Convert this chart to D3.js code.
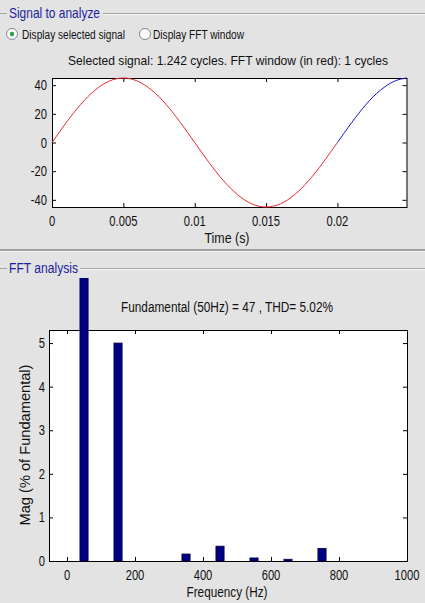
<!DOCTYPE html>
<html><head><meta charset="utf-8">
<script src="https://cdn.jsdelivr.net/npm/d3@7/dist/d3.min.js"></script>
<style>
html,body{margin:0;padding:0;background:#e2e2e2;}
text{font-family:"Liberation Sans",Arial,sans-serif;}
</style></head>
<body>
<svg id="c" width="425" height="603"></svg>
<script>
// ---- data ----
const timeSec = [0,0.001,0.002,0.003,0.004,0.005,0.006,0.007,0.008,0.009,0.010,0.011,0.012,0.013,0.014,0.015,0.016,0.017,0.018,0.019,0.020,0.021,0.022,0.023,0.024,0.02484];
const signalVal = [0,13.9,26.5,36.4,42.8,45,42.8,36.4,26.5,13.9,0,-13.9,-26.5,-36.4,-42.8,-45,-42.8,-36.4,-26.5,-13.9,0,13.9,26.5,36.4,42.8,45];
const fftWindowEnd = 0.02;
const timeTicks = [0,0.005,0.01,0.015,0.02];
const timeTickLabels = ["0","0.005","0.01","0.015","0.02"];
const sigTicks = [-40,-20,0,20,40];
const freqHz = [50,100,150,200,250,300,350,400,450,500,550,600,650,700,750,800,850,900,950,1000];
const magPct = [100,0,5.0,0,0,0,0.16,0,0.34,0,0.07,0,0.04,0,0.29,0,0,0,0,0];
const freqTicks = [0,200,400,600,800,1000];
const magTicks = [0,1,2,3,4,5];
const topTitle = "Selected signal: 1.242 cycles. FFT window (in red): 1 cycles";
const fftTitle = "Fundamental (50Hz) = 47 , THD= 5.02%";

const svg = d3.select("#c");
svg.append("rect").attr("width",425).attr("height",603).attr("fill","#e3e3e3");

function squeeze(sel, f){
  sel.each(function(){ const w=this.getComputedTextLength(); d3.select(this).attr("textLength",w*f).attr("lengthAdjust","spacingAndGlyphs"); });
}
function fitW(sel,w){ sel.attr("textLength",w).attr("lengthAdjust","spacingAndGlyphs"); }

// group boxes
function groupBox(y, x1, x2){
  svg.append("line").attr("x1",0).attr("x2",x1).attr("y1",y+0.5).attr("y2",y+0.5).attr("stroke","#a4a4a4");
  svg.append("line").attr("x1",x2).attr("x2",425).attr("y1",y+0.5).attr("y2",y+0.5).attr("stroke","#a4a4a4");
  svg.append("line").attr("x1",x2).attr("x2",425).attr("y1",y+1.5).attr("y2",y+1.5).attr("stroke","#f6f6f6");
}
groupBox(13,7,103);
svg.append("text").attr("x",9).attr("y",18).attr("font-size",15).attr("fill","#1e1e9e").text("Signal to analyze").call(fitW,91);
groupBox(268,7,80);
svg.append("text").attr("x",9).attr("y",273).attr("font-size",14).attr("fill","#1e1e9e").text("FFT analysis").call(fitW,69);
// separator
svg.append("rect").attr("x",0).attr("y",249).attr("width",425).attr("height",2).attr("fill","#a0a0a0");
svg.append("rect").attr("x",0).attr("y",251).attr("width",425).attr("height",1).attr("fill","#f4f4f4");

// radio buttons
[[12,34,true,"Display selected signal",22,103],[145,34,false,"Display FFT window",153,91]].forEach(r=>{
  svg.append("circle").attr("cx",r[0]).attr("cy",r[1]).attr("r",5.5).attr("fill","#fbfbfb").attr("stroke","#7a8a9a");
  if(r[2]) svg.append("circle").attr("cx",r[0]).attr("cy",r[1]).attr("r",2.2).attr("fill","#2aa040");
  svg.append("text").attr("x",r[4]).attr("y",38.5).attr("font-size",12).attr("fill","#111").text(r[3]).call(fitW,r[5]);
});

// ---- top plot ----
const x1 = d3.scaleLinear().domain([0,0.02484]).range([52,406.5]);
const y1 = d3.scaleLinear().domain([-45,45]).range([207,78]);
svg.append("rect").attr("x",52).attr("y",78).attr("width",354.5).attr("height",129).attr("fill","#fff");
svg.append("text").attr("x",228).attr("y",65).attr("text-anchor","middle").attr("font-size",13.5).attr("fill","#111").text(topTitle).call(fitW,320);

function axesFrame(x, y, xt, yt, xlabels, ylabels, xBase, yRight){
  const [L,R]=x.range(), [B,T]=y.range();
  const g=svg.append("g");
  const tl=4;
  xt.forEach((v,i)=>{
    g.append("line").attr("x1",x(v)+0.5).attr("x2",x(v)+0.5).attr("y1",B).attr("y2",B-tl).attr("stroke","#000");
    g.append("line").attr("x1",x(v)+0.5).attr("x2",x(v)+0.5).attr("y1",T).attr("y2",T+tl).attr("stroke","#000");
    g.append("text").attr("x",x(v)).attr("y",xBase).attr("text-anchor","middle").attr("font-size",14).attr("fill","#111").text(xlabels[i]).call(squeeze,0.8);
  });
  yt.forEach((v,i)=>{
    g.append("line").attr("x1",L).attr("x2",L+tl).attr("y1",y(v)+0.5).attr("y2",y(v)+0.5).attr("stroke","#000");
    g.append("line").attr("x1",R).attr("x2",R-tl).attr("y1",y(v)+0.5).attr("y2",y(v)+0.5).attr("stroke","#000");
    g.append("text").attr("x",yRight).attr("y",y(v)+5).attr("text-anchor","end").attr("font-size",14).attr("fill","#111").text(ylabels[i]).call(squeeze,0.8);
  });
  g.append("rect").attr("x",L+0.5).attr("y",T+0.5).attr("width",R-L).attr("height",B-T).attr("fill","none").attr("stroke","#000");
}
axesFrame(x1,y1,timeTicks,sigTicks,timeTickLabels,sigTicks.map(String),226,47);

const defs=svg.append("defs");
defs.append("clipPath").attr("id","cRed").append("rect").attr("x",0).attr("y",0).attr("width",x1(fftWindowEnd)).attr("height",603);
defs.append("clipPath").attr("id","cBlue").append("rect").attr("x",x1(fftWindowEnd)).attr("y",0).attr("width",425).attr("height",603);
const pts = timeSec.map((t,i)=>[t,signalVal[i]]);
const line = d3.line().x(d=>x1(d[0])).y(d=>y1(d[1])).curve(d3.curveNatural);
svg.append("path").attr("d",line(pts)).attr("fill","none").attr("stroke","#f02828").attr("stroke-width",1).attr("clip-path","url(#cRed)");
svg.append("path").attr("d",line(pts)).attr("fill","none").attr("stroke","#1414d8").attr("stroke-width",1).attr("clip-path","url(#cBlue)");
svg.append("text").attr("x",227).attr("y",243).attr("text-anchor","middle").attr("font-size",14).attr("fill","#111").text("Time (s)").call(fitW,45);

// ---- bottom plot ----
const x2 = d3.scaleLinear().domain([-53,1000]).range([49,407]);
const y2 = d3.scaleLinear().domain([0,5.3]).range([561,330]);
svg.append("rect").attr("x",49).attr("y",330).attr("width",358).attr("height",231).attr("fill","#fff");
svg.append("text").attr("x",227).attr("y",312).attr("text-anchor","middle").attr("font-size",14).attr("fill","#111").text(fftTitle).call(fitW,212);
axesFrame(x2,y2,freqTicks,magTicks,freqTicks.map(String),magTicks.map(String),580,45);
defs.append("clipPath").attr("id","cBar").append("rect").attr("x",0).attr("y",278).attr("width",425).attr("height",300);
const bw = 24;
svg.append("g").attr("clip-path","url(#cBar)").selectAll("rect").data(freqHz.map((f,i)=>({f,m:magPct[i]})).filter(d=>d.m>0)).join("rect")
  .attr("x",d=>x2(d.f-bw/2)).attr("width",d=>x2(d.f+bw/2)-x2(d.f-bw/2))
  .attr("y",d=>y2(d.m)).attr("height",d=>y2(0)-y2(d.m))
  .attr("fill","#000080").attr("stroke","#00003a").attr("stroke-width",0.8);
svg.append("text").attr("x",227).attr("y",597).attr("text-anchor","middle").attr("font-size",14).attr("fill","#111").text("Frequency (Hz)").call(fitW,81);
svg.append("text").attr("transform","translate(30,445) rotate(-90)").attr("text-anchor","middle").attr("font-size",14).attr("fill","#111").text("Mag (% of Fundamental)").call(fitW,161);
</script>
</body></html>
